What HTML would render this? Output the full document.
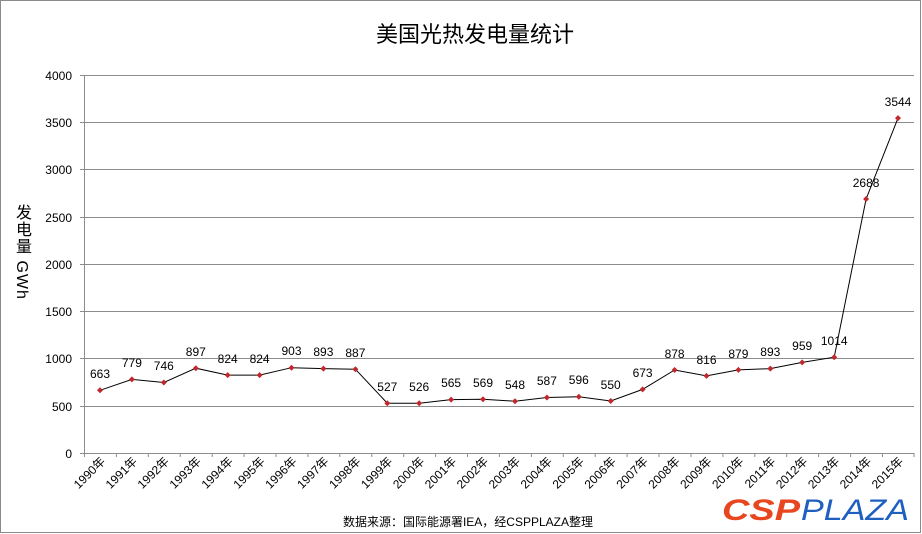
<!DOCTYPE html>
<html><head><meta charset="utf-8"><style>
body{margin:0;background:#fff}
#c{position:relative;width:922px;height:534px;overflow:hidden;font-family:"Liberation Sans","Noto Sans CJK SC",sans-serif}
#yt{position:absolute;left:9px;top:204px;writing-mode:vertical-rl;font-size:16px;color:#000;letter-spacing:1px}
</style></head><body><div id="c">
<svg width="922" height="534" xmlns="http://www.w3.org/2000/svg" style="position:absolute;left:0;top:0">
<rect x="0.5" y="0.5" width="920" height="532" fill="#fff" stroke="#8a8a8a"/>
<text x="475" y="42" text-anchor="middle" font-size="22" font-family="Liberation Sans,Noto Sans CJK SC,sans-serif">美国光热发电量统计</text>
<g stroke="#8c8c8c" stroke-width="1">
<line x1="80" x2="914" y1="75.5" y2="75.5"/><line x1="80" x2="914" y1="122.5" y2="122.5"/>
<line x1="80" x2="914" y1="169.5" y2="169.5"/><line x1="80" x2="914" y1="217.5" y2="217.5"/>
<line x1="80" x2="914" y1="264.5" y2="264.5"/><line x1="80" x2="914" y1="311.5" y2="311.5"/>
<line x1="80" x2="914" y1="358.5" y2="358.5"/><line x1="80" x2="914" y1="406.5" y2="406.5"/>
<line x1="80" x2="914" y1="453.5" y2="453.5"/>
<line x1="84.5" x2="84.5" y1="75" y2="457"/>
</g>
<g stroke="#8c8c8c">
<path d="M116.4 453v4M148.3 453v4M180.2 453v4M212.2 453v4M244.1 453v4M276 453v4M307.9 453v4M339.8 453v4M371.8 453v4M403.7 453v4M435.6 453v4M467.5 453v4M499.4 453v4M531.4 453v4M563.3 453v4M595.2 453v4M627.1 453v4M659 453v4M691 453v4M722.9 453v4M754.8 453v4M786.7 453v4M818.6 453v4M850.6 453v4M882.5 453v4M914 453v4"/>
</g>
<g font-size="12" text-anchor="end" font-family="Liberation Sans,sans-serif">
<text x="72" y="80">4000</text><text x="72" y="127">3500</text><text x="72" y="174">3000</text>
<text x="72" y="222">2500</text><text x="72" y="269">2000</text><text x="72" y="316">1500</text>
<text x="72" y="363">1000</text><text x="72" y="411">500</text><text x="72" y="458">0</text>
</g>
<polyline fill="none" stroke="#000" stroke-width="1" points="100,390.3 131.9,379.4 163.8,382.5 195.8,368.2 227.7,375.1 259.6,375.1 291.5,367.7 323.4,368.6 355.4,369.2 387.3,403.2 419.2,403.3 451.1,399.6 483,399.2 515,401.2 546.9,397.5 578.8,396.7 610.7,401 642.6,389.4 674.6,370 706.5,375.9 738.4,369.9 770.3,368.6 802.2,362.4 834.2,357.2 866.1,199 898,118.1"/>
<g fill="#c0282d" id="m">
<path d="M100 387.3l3 3-3 3-3-3z"/><path d="M131.9 376.4l3 3-3 3-3-3z"/><path d="M163.8 379.5l3 3-3 3-3-3z"/><path d="M195.8 365.2l3 3-3 3-3-3z"/><path d="M227.7 372.1l3 3-3 3-3-3z"/><path d="M259.6 372.1l3 3-3 3-3-3z"/><path d="M291.5 364.7l3 3-3 3-3-3z"/><path d="M323.4 365.6l3 3-3 3-3-3z"/><path d="M355.4 366.2l3 3-3 3-3-3z"/><path d="M387.3 400.2l3 3-3 3-3-3z"/><path d="M419.2 400.3l3 3-3 3-3-3z"/><path d="M451.1 396.6l3 3-3 3-3-3z"/><path d="M483 396.2l3 3-3 3-3-3z"/><path d="M515 398.2l3 3-3 3-3-3z"/><path d="M546.9 394.5l3 3-3 3-3-3z"/><path d="M578.8 393.7l3 3-3 3-3-3z"/><path d="M610.7 398l3 3-3 3-3-3z"/><path d="M642.6 386.4l3 3-3 3-3-3z"/><path d="M674.6 367l3 3-3 3-3-3z"/><path d="M706.5 372.9l3 3-3 3-3-3z"/><path d="M738.4 366.9l3 3-3 3-3-3z"/><path d="M770.3 365.6l3 3-3 3-3-3z"/><path d="M802.2 359.4l3 3-3 3-3-3z"/><path d="M834.2 354.2l3 3-3 3-3-3z"/><path d="M866.1 196l3 3-3 3-3-3z"/><path d="M898 115.1l3 3-3 3-3-3z"/>
</g>
<g font-size="12" text-anchor="middle" font-family="Liberation Sans,sans-serif">
<text x="100" y="378">663</text><text x="131.9" y="367">779</text><text x="163.8" y="370">746</text><text x="195.8" y="356">897</text><text x="227.7" y="363">824</text><text x="259.6" y="363">824</text><text x="291.5" y="355">903</text><text x="323.4" y="356">893</text><text x="355.4" y="357">887</text><text x="387.3" y="391">527</text><text x="419.2" y="391">526</text><text x="451.1" y="387">565</text><text x="483" y="387">569</text><text x="515" y="389">548</text><text x="546.9" y="385">587</text><text x="578.8" y="384">596</text><text x="610.7" y="389">550</text><text x="642.6" y="377">673</text><text x="674.6" y="358">878</text><text x="706.5" y="364">816</text><text x="738.4" y="358">879</text><text x="770.3" y="356">893</text><text x="802.2" y="350">959</text><text x="834.2" y="345">1014</text><text x="866.1" y="187">2688</text><text x="898" y="106">3544</text>
</g>
<g font-size="12" text-anchor="end" font-family="Liberation Sans,Noto Sans CJK SC,sans-serif">
<text transform="translate(106,462) rotate(-45)">1990年</text><text transform="translate(137.9,462) rotate(-45)">1991年</text><text transform="translate(169.8,462) rotate(-45)">1992年</text><text transform="translate(201.8,462) rotate(-45)">1993年</text><text transform="translate(233.7,462) rotate(-45)">1994年</text><text transform="translate(265.6,462) rotate(-45)">1995年</text><text transform="translate(297.5,462) rotate(-45)">1996年</text><text transform="translate(329.4,462) rotate(-45)">1997年</text><text transform="translate(361.4,462) rotate(-45)">1998年</text><text transform="translate(393.3,462) rotate(-45)">1999年</text><text transform="translate(425.2,462) rotate(-45)">2000年</text><text transform="translate(457.1,462) rotate(-45)">2001年</text><text transform="translate(489,462) rotate(-45)">2002年</text><text transform="translate(521,462) rotate(-45)">2003年</text><text transform="translate(552.9,462) rotate(-45)">2004年</text><text transform="translate(584.8,462) rotate(-45)">2005年</text><text transform="translate(616.7,462) rotate(-45)">2006年</text><text transform="translate(648.6,462) rotate(-45)">2007年</text><text transform="translate(680.6,462) rotate(-45)">2008年</text><text transform="translate(712.5,462) rotate(-45)">2009年</text><text transform="translate(744.4,462) rotate(-45)">2010年</text><text transform="translate(776.3,462) rotate(-45)">2011年</text><text transform="translate(808.2,462) rotate(-45)">2012年</text><text transform="translate(840.2,462) rotate(-45)">2013年</text><text transform="translate(872.1,462) rotate(-45)">2014年</text><text transform="translate(904,462) rotate(-45)">2015年</text>
</g>
<text x="468" y="526" text-anchor="middle" font-size="12" font-family="Liberation Sans,Noto Sans CJK SC,sans-serif">数据来源：国际能源署IEA，经CSPPLAZA整理</text>
<text x="722" y="520" font-size="30" font-weight="bold" font-style="italic" fill="#e8461e" font-family="Liberation Sans,sans-serif" textLength="78" lengthAdjust="spacingAndGlyphs">CSP</text>
<text x="801" y="520" font-size="30" font-style="italic" fill="#1e5fc0" font-family="Liberation Sans,sans-serif" textLength="108" lengthAdjust="spacingAndGlyphs">PLAZA</text>
</svg>
<div id="yt">发电量 GWh</div>
</div></body></html>
